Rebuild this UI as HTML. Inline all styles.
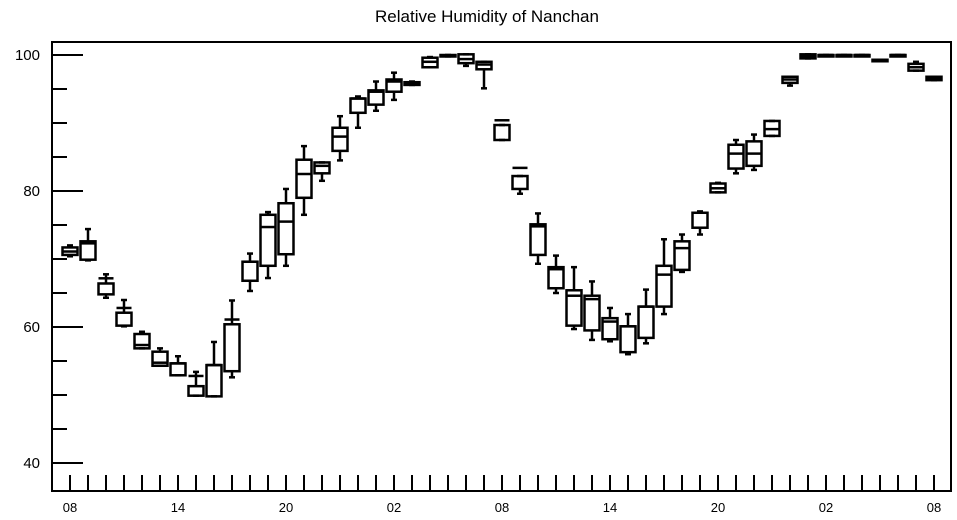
<!DOCTYPE html>
<html><head><meta charset="utf-8"><style>
html,body{margin:0;padding:0;background:#fff;}
svg{display:block;font-family:"Liberation Sans",Arial,sans-serif;}
</style></head><body>
<svg id="chart" width="957" height="520">
<text x="487" y="22" text-anchor="middle" font-size="17" fill="#000">Relative Humidity of Nanchan</text>
<g id="axes"></g>
<g id="boxes"></g>
</svg>
<script>
const hourLabels = ["08","14","20","02","08","14","20","02","08"];
const yTicks = [40,60,80,100];
const whiskerHigh = [72.0,74.4,67.75,63.97,59.3,56.86,55.7,53.4,57.8,63.9,70.8,76.9,80.3,86.6,84.2,91.0,93.9,96.1,97.4,96.1,99.7,100.0,100.1,99.0,89.7,82.2,76.7,70.5,68.8,66.7,62.8,61.9,65.5,72.9,73.6,77.0,81.2,87.5,88.3,90.3,96.8,100.1,100.0,100.0,100.0,99.3,100.0,99.0,96.8];
const q3Values = [71.7,72.6,66.4,62.1,58.97,56.37,54.65,51.3,54.4,60.4,69.6,76.5,78.2,84.6,84.2,89.3,93.6,94.8,96.4,96.0,99.6,100.0,100.1,99.0,89.7,82.2,75.1,68.8,65.4,64.6,61.3,60.1,63.0,69.0,72.6,76.8,81.1,86.8,87.3,90.3,96.8,100.1,100.0,100.0,100.0,99.3,100.0,98.7,96.8];
const medianValues = [71.1,72.3,67.16,62.8,57.35,54.75,54.65,52.8,54.4,61.1,69.6,74.7,75.5,82.5,83.7,88.0,93.6,94.6,96.1,95.8,99.0,99.9,99.4,98.6,90.4,83.4,74.8,68.5,64.6,64.1,60.8,60.1,63.0,67.7,71.6,76.8,80.4,85.5,85.5,89.1,96.4,99.8,100.0,100.0,100.0,99.2,100.0,98.2,96.6];
const q1Values = [70.6,69.9,64.8,60.2,56.86,54.3,52.9,49.9,49.8,53.5,66.8,69.0,70.7,79.0,82.6,85.9,91.5,92.7,94.6,95.6,98.2,99.8,98.8,97.9,87.5,80.3,70.6,65.7,60.2,59.5,58.2,56.3,58.4,63.0,68.4,74.6,79.8,83.3,83.7,88.1,95.9,99.5,99.9,99.9,99.9,99.1,99.9,97.7,96.3];
const whiskerLow = [70.4,69.8,64.3,60.1,56.86,54.3,52.9,49.9,49.8,52.6,65.3,67.2,69.0,76.5,81.5,84.5,89.3,91.8,93.4,95.6,98.2,99.8,98.4,95.1,87.5,79.6,69.3,65.0,59.7,58.1,57.9,56.0,57.6,61.9,68.1,73.6,79.8,82.6,83.1,88.1,95.5,99.5,99.9,99.9,99.9,99.1,99.9,97.7,96.3];

const NS="http://www.w3.org/2000/svg";
const L=52,R=951,T=42,B=491;
function yPos(v){return 55+(100-v)*6.8;}
function xPos(i){return 70+i*18;}
function mk(tag,attrs,parent){const e=document.createElementNS(NS,tag);for(const k in attrs)e.setAttribute(k,attrs[k]);parent.appendChild(e);return e;}
const axes=document.getElementById('axes');
const boxes=document.getElementById('boxes');
let frame=mk('rect',{x:L,y:T,width:R-L,height:B-T,fill:'none',stroke:'#000','stroke-width':2},axes);


// y ticks (minor every 5)
for(let v=40;v<=100;v+=5){
  const major=(v%20===0);
  let t=mk('line',{x1:L,x2:L+(major?31:15),y1:yPos(v),y2:yPos(v),stroke:'#000','stroke-width':2},axes);
  
  
}
yTicks.forEach(v=>{
  let t=mk('text',{x:40,y:yPos(v)+5,'text-anchor':'end','font-size':15,fill:'#000'},axes);
  t.textContent=String(v);
  
  
});
for(let i=0;i<medianValues.length;i++){
  let t=mk('line',{x1:xPos(i),x2:xPos(i),y1:B,y2:B-16,stroke:'#000','stroke-width':2},axes);
  
  
}
hourLabels.forEach((s,j)=>{
  let t=mk('text',{x:xPos(j*6),y:512,'text-anchor':'middle','font-size':13,fill:'#000'},axes);
  t.textContent=s;
  
  
});
const hw=7.5, cw=3;
for(let i=0;i<medianValues.length;i++){
  const x=xPos(i);
  const g=mk('g',{},boxes);
  
  
  const st={stroke:'#000','stroke-width':2.5,fill:'none'};
  const yh=yPos(whiskerHigh[i]),y3=yPos(q3Values[i]),ym=yPos(medianValues[i]),y1=yPos(q1Values[i]),yl=yPos(whiskerLow[i]);
  let w1=mk('line',Object.assign({x1:x,x2:x,y1:yh,y2:y3},st),g);
  
  
  let c1=mk('line',Object.assign({x1:x-cw,x2:x+cw,y1:yh,y2:yh},st),g);
  
  
  let w2=mk('line',Object.assign({x1:x,x2:x,y1:y1,y2:yl},st),g);
  
  
  let c2=mk('line',Object.assign({x1:x-cw,x2:x+cw,y1:yl,y2:yl},st),g);
  
  
  let r=mk('rect',Object.assign({x:x-hw,y:Math.min(y3,y1),width:hw*2,height:Math.max(1.5,Math.abs(y1-y3))},st),g);
  
  
  let m=mk('line',Object.assign({x1:x-hw,x2:x+hw,y1:ym,y2:ym},st),g);
  
  
}
</script>
</body></html>
